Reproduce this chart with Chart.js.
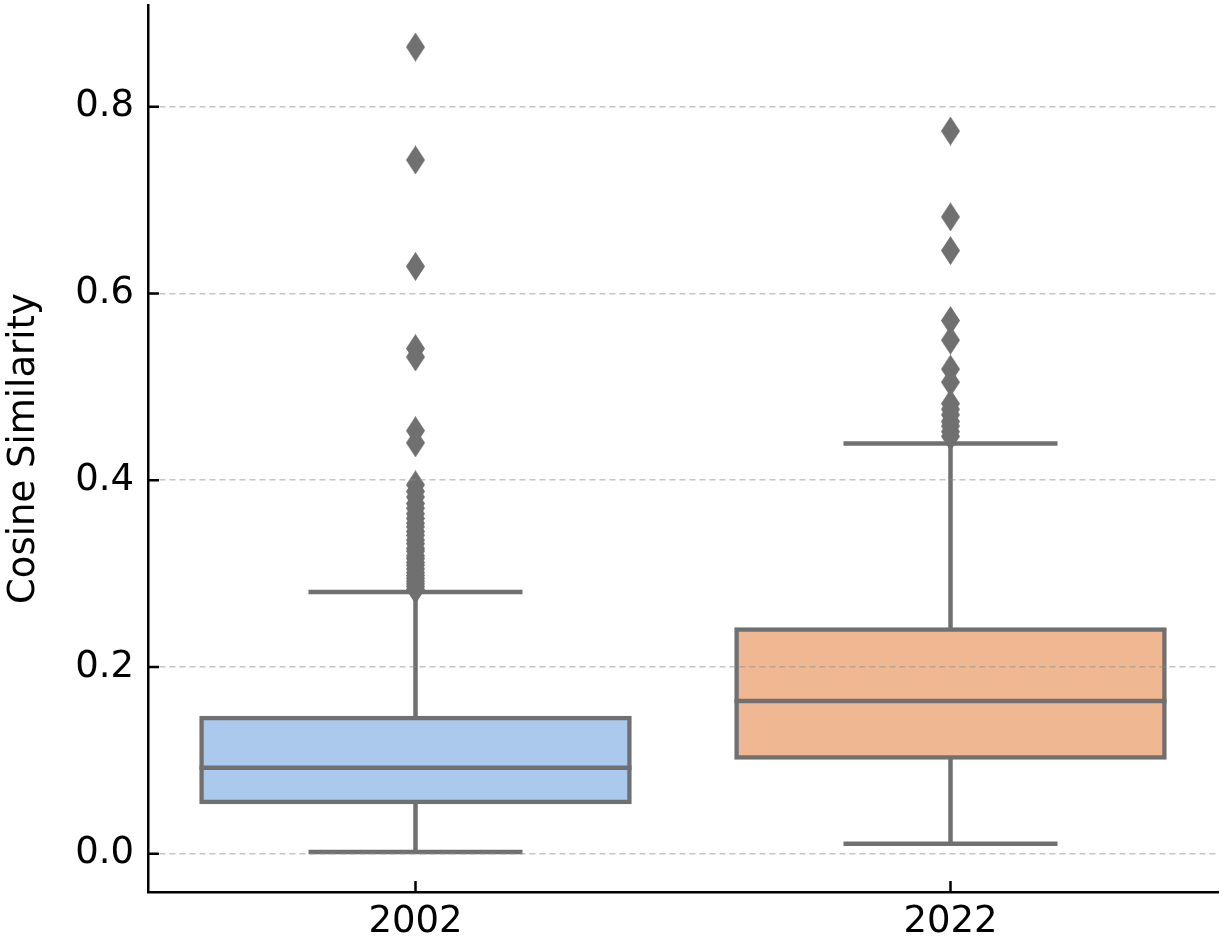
<!DOCTYPE html>
<html>
<head>
<meta charset="utf-8">
<script src="https://cdn.jsdelivr.net/npm/chart.js@4.4.1/dist/chart.umd.min.js"></script>
<style>
  html, body { margin: 0; padding: 0; background: #ffffff; }
  #wrap { width: 1226px; height: 938px; position: relative; }
</style>
</head>
<body>
<div id="wrap"><canvas id="chart" width="1226" height="938"></canvas></div>
<script>
// ---- data ----
const categories = ['2002', '2022'];
const q1 = [0.0553, 0.1029];
const median = [0.0921, 0.1635];
const q3 = [0.1453, 0.2400];
const whiskerLow = [0.0017, 0.0107];
const whiskerHigh = [0.2803, 0.4393];
const outliers2002 = [0.864, 0.743, 0.629, 0.541, 0.532, 0.453, 0.440,
  0.395, 0.388, 0.382, 0.375, 0.370, 0.364, 0.359, 0.354, 0.350, 0.345, 0.341,
  0.336, 0.332, 0.327, 0.324, 0.319, 0.316, 0.312, 0.309, 0.305, 0.301, 0.298,
  0.295, 0.292, 0.289, 0.286, 0.283];
const outliers2022 = [0.774, 0.682, 0.646, 0.571, 0.550, 0.519, 0.505,
  0.482, 0.476, 0.470, 0.463, 0.458, 0.452, 0.447];
const yTicks = [0.0, 0.2, 0.4, 0.6, 0.8];
const yTitle = 'Cosine Similarity';

// ---- styles ----
const boxFill = ['#abc9ec', '#f0b793'];
const lineGray = '#707070';
const FONT = 'DejaVu Sans';
const LW = 4.5;

function diamond(w, h, color) {
  const c = document.createElement('canvas');
  c.width = w; c.height = h;
  const g = c.getContext('2d');
  g.fillStyle = color;
  g.beginPath();
  g.moveTo(w / 2, 0); g.lineTo(w, h / 2); g.lineTo(w / 2, h); g.lineTo(0, h / 2);
  g.closePath(); g.fill();
  return c;
}
const diamondImg = diamond(19, 29, lineGray);

const boxPlugin = {
  id: 'boxParts',
  beforeDatasetsDraw(chart) {
    const ctx = chart.ctx, xs = chart.scales.x, ys = chart.scales.y;
    const meta = chart.getDatasetMeta(0);
    ctx.save();
    ctx.strokeStyle = lineGray;
    ctx.lineWidth = LW;
    ctx.lineCap = 'butt';
    categories.forEach((c, i) => {
      const x = xs.getPixelForValue(i);
      const half = meta.data[i].width / 4;
      ctx.beginPath();
      ctx.moveTo(x, ys.getPixelForValue(q3[i])); ctx.lineTo(x, ys.getPixelForValue(whiskerHigh[i]));
      ctx.moveTo(x, ys.getPixelForValue(q1[i])); ctx.lineTo(x, ys.getPixelForValue(whiskerLow[i]));
      ctx.moveTo(x - half, ys.getPixelForValue(whiskerHigh[i])); ctx.lineTo(x + half, ys.getPixelForValue(whiskerHigh[i]));
      ctx.moveTo(x - half, ys.getPixelForValue(whiskerLow[i])); ctx.lineTo(x + half, ys.getPixelForValue(whiskerLow[i]));
      ctx.stroke();
    });
    ctx.restore();
  },
  afterDatasetDraw(chart, args) {
    if (args.index !== 0) return;
    const ctx = chart.ctx, xs = chart.scales.x, ys = chart.scales.y;
    const meta = chart.getDatasetMeta(0);
    ctx.save();
    ctx.strokeStyle = lineGray;
    ctx.lineWidth = LW;
    categories.forEach((c, i) => {
      const x = xs.getPixelForValue(i);
      const half = meta.data[i].width / 2 + 2;
      const y = ys.getPixelForValue(median[i]);
      ctx.beginPath();
      ctx.moveTo(x - half, y); ctx.lineTo(x + half, y);
      ctx.stroke();
    });
    ctx.restore();
  },
  afterDraw(chart) {
    const ctx = chart.ctx, xs = chart.scales.x, ys = chart.scales.y;
    const area = chart.chartArea;
    ctx.save();
    ctx.strokeStyle = '#000';
    ctx.lineWidth = 2.5;
    ctx.beginPath();
    yTicks.forEach(v => {
      const y = ys.getPixelForValue(v);
      ctx.moveTo(area.left, y); ctx.lineTo(area.left + 11, y);
    });
    categories.forEach((c, i) => {
      const x = xs.getPixelForValue(i);
      ctx.moveTo(x, area.bottom); ctx.lineTo(x, area.bottom - 11);
    });
    ctx.stroke();
    ctx.restore();
  }
};

const outlierSets = [outliers2002, outliers2022];

function noPad(s) {
  s.paddingTop = 0; s.paddingBottom = 0; s.paddingLeft = 0; s.paddingRight = 0;
}

new Chart(document.getElementById('chart'), {
  type: 'bar',
  data: {
    labels: categories,
    datasets: [
      {
        type: 'bar',
        data: categories.map((c, i) => [q1[i], q3[i]]),
        backgroundColor: boxFill,
        borderColor: lineGray,
        borderWidth: LW,
        borderSkipped: false,
        inflateAmount: LW / 2,
        barPercentage: 0.8,
        categoryPercentage: 1.0,
        order: 1
      },
      ...outlierSets.map((arr, i) => ({
        type: 'scatter',
        data: arr.map(v => ({ x: categories[i], y: v })),
        pointStyle: diamondImg,
        pointRadius: 10,
        backgroundColor: lineGray,
        borderColor: lineGray,
        order: 0
      }))
    ]
  },
  options: {
    responsive: false,
    animation: false,
    devicePixelRatio: 1,
    layout: { autoPadding: false, padding: { top: 5, right: 8, left: 0, bottom: 0 } },
    plugins: { legend: { display: false }, tooltip: { enabled: false } },
    scales: {
      x: {
        type: 'category',
        offset: true,
        grid: { display: false, drawTicks: false },
        border: { display: true, color: '#000', width: 2.5, z: 2 },
        ticks: { color: '#000', padding: 8, font: { family: FONT, size: 37 }, maxRotation: 0 },
        afterFit(s) { s.height = 46; noPad(s); }
      },
      y: {
        type: 'linear',
        min: -0.0411,
        max: 0.909,
        afterBuildTicks(s) { s.ticks = yTicks.map(v => ({ value: v })); },
        grid: { display: true, color: 'rgba(140,140,140,0.5)', lineWidth: 1.5, drawTicks: false, z: 1 },
        border: { display: true, color: '#000', width: 2.5, dash: [6, 4], z: 2 },
        ticks: {
          color: '#000', padding: 14, font: { family: FONT, size: 37 },
          callback: v => Number(v).toFixed(1)
        },
        title: { display: true, text: yTitle, color: '#000', font: { family: FONT, size: 37 }, padding: { top: 2, bottom: 0 } },
        afterFit(s) { s.width = 148; noPad(s); }
      }
    }
  },
  plugins: [boxPlugin]
});
</script>
</body>
</html>
